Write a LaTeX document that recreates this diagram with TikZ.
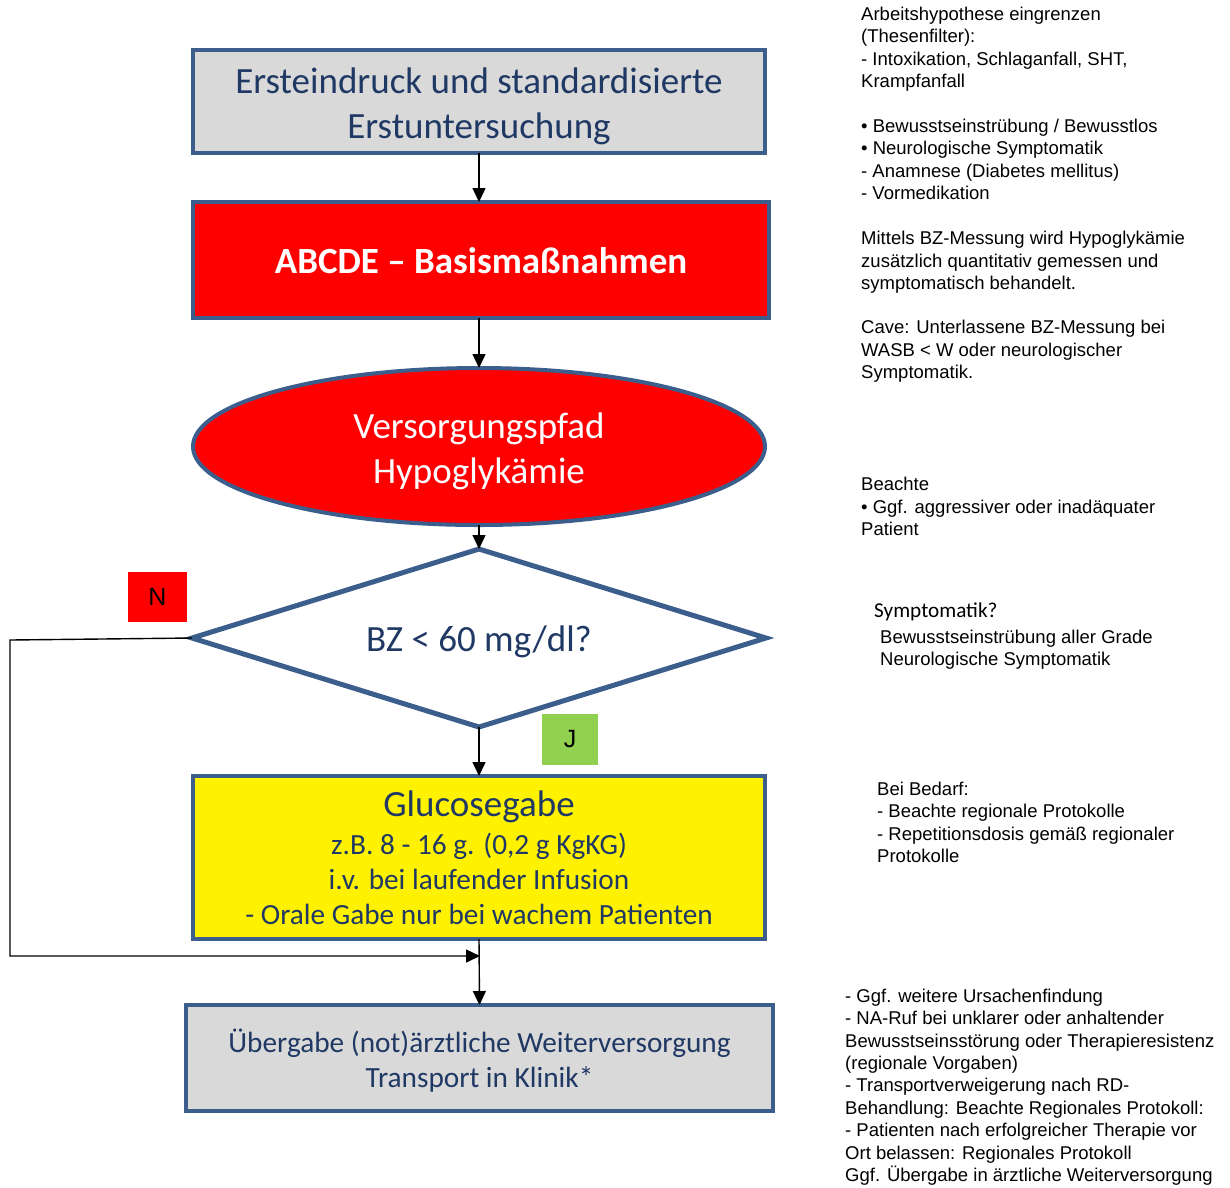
\documentclass[tikz,border=0pt]{standalone}
\usepackage{fontspec}
\setmainfont{Carlito}
\newfontfamily\arialfont{Liberation Sans}
\usetikzlibrary{shapes.geometric,arrows.meta}
\definecolor{frame}{HTML}{3B5E8C}
\definecolor{navy}{HTML}{1F3864}
\definecolor{boxgray}{HTML}{D9D9D9}
\definecolor{jgreen}{HTML}{92D050}

\begin{document}
\begin{tikzpicture}[x=1pt,y=-1pt,
  flowbox/.style={draw=frame, line width=4pt, inner sep=0pt, outer sep=0pt, align=center, text=navy},
  bigtext/.style={font=\fontsize{37}{45}\selectfont},
  smalltext/.style={font=\fontsize{29.3}{35}\selectfont},
  conn/.style={line width=1.4pt, -{Triangle[width=13pt,length=14pt]}},
  note/.style={anchor=base west, inner sep=0pt, align=left, font=\arialfont\fontsize{18.5}{22.4}\selectfont},
  tag/.style={inner sep=0pt, minimum width=59pt, minimum height=50pt, font=\arialfont\fontsize{25}{30}\selectfont}
]
\useasboundingbox (0,0) rectangle (1230,1187);

% main flow
\node[flowbox, bigtext, fill=boxgray, minimum width=572pt, minimum height=103pt] (b1) at (479,101.5)
  {\rule{0pt}{36pt}Ersteindruck und standardisierte\\Erstuntersuchung};
\node[flowbox, fill=red, text=white, font=\bfseries\fontsize{37}{45}\selectfont, minimum width=576pt, minimum height=116pt] (b2) at (481,260)
  {\rule{0pt}{28pt}ABCDE – Basismaßnahmen};
\node[flowbox, bigtext, ellipse, fill=red, text=white, minimum width=572pt, minimum height=157pt] (pf) at (479,446.5)
  {\rule{0pt}{36pt}Versorgungspfad\\Hypoglykämie};
\node[flowbox, bigtext, diamond, aspect=3.22, fill=white, line width=5pt, minimum width=574pt, minimum height=178pt] (q) at (479,638)
  {\rule{0pt}{34pt}BZ < 60 mg/dl?};
\node[flowbox, smalltext, fill=yellow, minimum width=572pt, minimum height=163pt] (glu) at (479,857.5)
  {{\fontsize{37}{45}\selectfont Glucosegabe}\\[3pt]z.B. 8 - 16 g. (0,2 g KgKG)\\i.v. bei laufender Infusion\\- Orale Gabe nur bei wachem Patienten};
\node[flowbox, smalltext, fill=boxgray, minimum width=587pt, minimum height=106pt] (ub) at (479.5,1058)
  {\rule{0pt}{28pt}Übergabe (not)ärztliche Weiterversorgung\\Transport in Klinik*};

% decision tags
\node[tag, fill=red] (tn) at (157.5,597) {N};
\node[tag, fill=jgreen, minimum width=56pt, minimum height=51pt] (tj) at (570,739.5) {J};

% connectors
\draw[conn] (b1.south) -- (b1.south |- b2.north);
\draw[conn] (b2.south -| pf.north) -- (pf.north);
\draw[conn] (pf.south) -- (q.north);
\draw[conn] (q.south) -- (glu.north);
\draw[conn] (glu.south) -- (ub.north);
\coordinate (nl) at (10,640);
\coordinate (nb) at (10,956);
\coordinate (mj) at (480,956);
\draw[conn] (q.west) -- (nl) -- (nb) -- (mj);

% side notes (anchored at the baseline of their last line)
\node[note] (n1) at (861,87.5) {Arbeitshypothese eingrenzen\\(Thesenfilter):\\- Intoxikation, Schlaganfall, SHT,\\Krampfanfall};
\node[note] (n2) at (861,199.5) {• Bewusstseinstrübung / Bewusstlos\\• Neurologische Symptomatik\\- Anamnese (Diabetes mellitus)\\- Vormedikation};
\node[note] (n3) at (861,289.5) {Mittels BZ-Messung wird Hypoglykämie\\zusätzlich quantitativ gemessen und\\symptomatisch behandelt.};
\node[note] (n4) at (861,378.5) {Cave: Unterlassene BZ-Messung bei\\WASB < W oder neurologischer\\Symptomatik.};
\node[note] (n5) at (861,535.5) {Beachte\\• Ggf. aggressiver oder inadäquater\\Patient};
\node[anchor=base west, inner sep=0pt, font=\fontsize{21.2}{25}\selectfont] (n6) at (874,617.5) {Symptomatik?};
\node[note] (n7) at (880,665.5) {Bewusstseinstrübung aller Grade\\Neurologische Symptomatik};
\node[note] (n8) at (877,862.5) {Bei Bedarf:\\- Beachte regionale Protokolle\\- Repetitionsdosis gemäß regionaler\\Protokolle};
\node[note] (n9) at (845,1181.5) {- Ggf. weitere Ursachenfindung\\- NA-Ruf bei unklarer oder anhaltender\\Bewusstseinsstörung oder Therapieresistenz\\(regionale Vorgaben)\\- Transportverweigerung nach RD-\\Behandlung: Beachte Regionales Protokoll:\\- Patienten nach erfolgreicher Therapie vor\\Ort belassen: Regionales Protokoll\\Ggf. Übergabe in ärztliche Weiterversorgung};
\end{tikzpicture}
\end{document}
